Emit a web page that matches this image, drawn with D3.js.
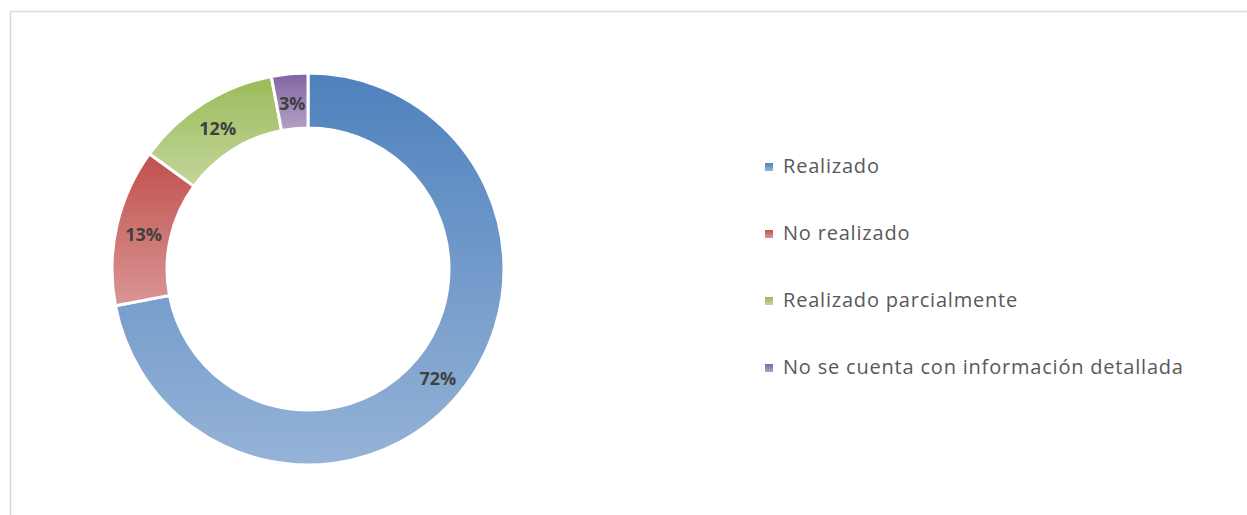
<!DOCTYPE html>
<head>
  <title>Donut</title>
  <meta charset="utf-8">
  <script src="https://cdn.jsdelivr.net/npm/d3@7"></script>
  <style>
body{ margin:0; background:#fff; }
  </style>
</head>
<body>
</body>
<script>

var categories = ["Realizado", "No realizado", "Realizado parcialmente", "No se cuenta con información detallada"]
var values = [72, 13, 12, 3]
var labels = ["72%", "13%", "12%", "3%"]
var topColors = ["#4f81bd", "#c0504d", "#9bbb59", "#8064a2"]
var bottomColors = ["#95b3d7", "#d99694", "#c3d69b", "#b3a2c7"]

var width = 1247, height = 515
var cx = 308, cy = 269, outerR = 196, innerR = 141

var svg = d3.select("body").append("svg").attr("width", width).attr("height", height)

// chart area frame
svg.append("rect").attr("x", 10.5).attr("y", 11.5).attr("width", 1300).attr("height", 600)
  .attr("fill", "white").attr("stroke", "#d9d9d9").attr("stroke-width", 1.5)

var defs = svg.append("defs")
for (var i in categories) {
  var g = defs.append("linearGradient").attr("id", "grad" + i).attr("x1", 0).attr("y1", 0).attr("x2", 0).attr("y2", 1)
  g.append("stop").attr("offset", "0%").attr("stop-color", topColors[i])
  g.append("stop").attr("offset", "100%").attr("stop-color", bottomColors[i])
}

var pie = d3.pie().sort(null).value(d => d)
var arcs = pie(values)
var arc = d3.arc().innerRadius(innerR).outerRadius(outerR)
var labelArc = d3.arc().innerRadius((innerR + outerR) / 2).outerRadius((innerR + outerR) / 2)

var donut = svg.append("g").attr("transform", "translate(" + cx + "," + cy + ")")

donut.selectAll("path").data(arcs).enter().append("path")
  .attr("d", arc)
  .attr("fill", (d, i) => "url(#grad" + i + ")")
  .attr("stroke", "white").attr("stroke-width", 3).attr("stroke-linejoin", "miter")

donut.selectAll("text").data(arcs).enter().append("text")
  .attr("x", d => labelArc.centroid(d)[0])
  .attr("y", d => labelArc.centroid(d)[1] + 2)
  .attr("dy", ".35em")
  .attr("text-anchor", "middle")
  .attr("font-family", "'Open Sans', Lato, sans-serif")
  .attr("font-weight", "bold")
  .attr("font-size", "18px")
  .attr("fill", "#404040")
  .text((d, i) => labels[i])

var legend = svg.append("g").attr("transform", "translate(765,166)")
var rowGap = 67

legend.selectAll("rect").data(categories).enter().append("rect")
  .attr("x", 0).attr("y", (d, i) => i * rowGap - 3)
  .attr("width", 8).attr("height", 8)
  .attr("fill", (d, i) => "url(#grad" + i + ")")

legend.selectAll("text").data(categories).enter().append("text")
  .attr("x", 18).attr("y", (d, i) => i * rowGap + 7)
  .attr("font-family", "'Open Sans', Lato, sans-serif")
  .attr("font-size", "20px")
  .attr("letter-spacing", "0.8px")
  .attr("fill", "#595959")
  .text(d => d)

</script>
